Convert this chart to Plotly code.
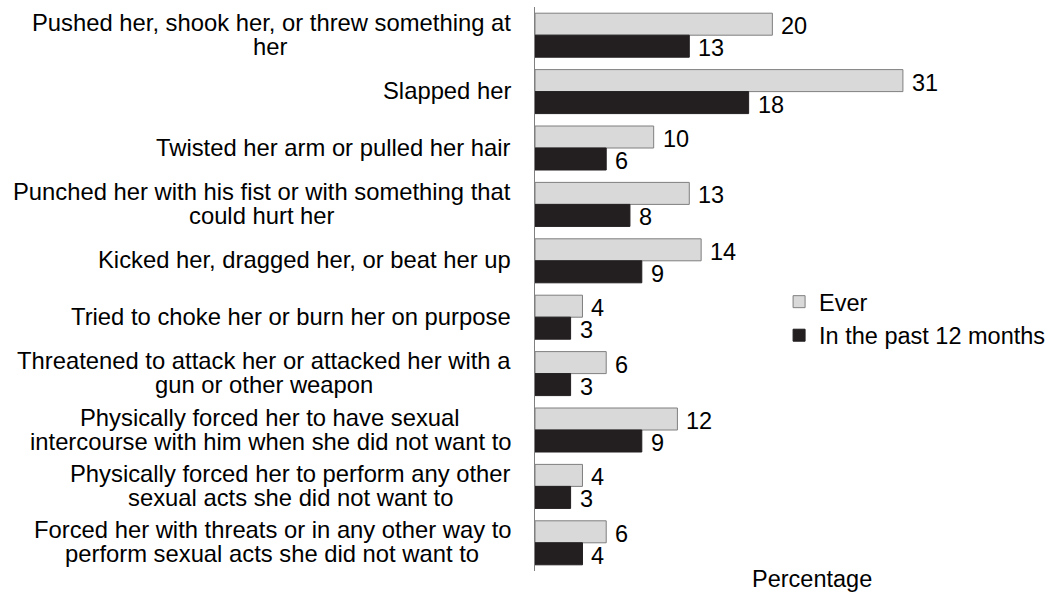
import plotly.graph_objects as go

categories = [
    "Pushed her, shook her, or threw something at<br>her",
    "Slapped her",
    "Twisted her arm or pulled her hair",
    "Punched her with his fist or with something that<br>could hurt her",
    "Kicked her, dragged her, or beat her up",
    "Tried to choke her or burn her on purpose",
    "Threatened to attack her or attacked her with a<br>gun or other weapon",
    "Physically forced her to have sexual<br>intercourse with him when she did not want to",
    "Physically forced her to perform any other<br>sexual acts she did not want to",
    "Forced her with threats or in any other way to<br>perform sexual acts she did not want to",
]
ever = [20, 31, 10, 13, 14, 4, 6, 12, 4, 6]
past_12_months = [13, 18, 6, 8, 9, 3, 3, 9, 3, 4]

FONT = "Liberation Sans, Arial, sans-serif"
FS = 23.5
LABEL_FS = 23.8
idx = list(range(len(categories)))

# Arial / Liberation Sans advance widths (per 1000 em) used to centre
# the lines of a wrapped label against each other.
ADV = {" ": 278, ",": 278, "a": 556, "b": 556, "c": 500, "d": 556, "e": 556,
       "f": 278, "g": 556, "h": 556, "i": 222, "j": 222, "k": 500, "l": 222,
       "m": 833, "n": 556, "o": 556, "p": 556, "q": 556, "r": 333, "s": 500,
       "t": 278, "u": 556, "v": 500, "w": 722, "x": 500, "y": 500, "z": 500,
       "P": 667, "S": 667, "T": 611, "K": 667, "F": 611}


def text_width(s, size):
    return sum(ADV.get(ch, 556) for ch in s) * size / 1000.0


fig = go.Figure()
fig.add_trace(go.Bar(
    name="Ever", y=idx, x=ever, orientation="h",
    marker=dict(color="#d9d9d9", line=dict(color="#7f7f7f", width=1)),
))
fig.add_trace(go.Bar(
    name="In the past 12 months", y=idx, x=past_12_months, orientation="h",
    marker=dict(color="#231f20", line=dict(color="#231f20", width=1)),
))

annotations = []
LABEL_GAP = 22      # px between label block and the axis line
LINE_STEP = 24      # px between wrapped label lines
for i, c in enumerate(categories):
    lines = c.split("<br>")
    widths = [text_width(s, LABEL_FS) for s in lines]
    block = max(widths)
    n = len(lines)
    for k, (s, w) in enumerate(zip(lines, widths)):
        annotations.append(dict(
            x=0, xref="paper", y=i, yref="y", text=s, showarrow=False,
            xanchor="right", yanchor="middle",
            xshift=-LABEL_GAP - (block - w) / 2,
            yshift=((n - 1) / 2 - k) * LINE_STEP + 1,
            font=dict(family=FONT, size=LABEL_FS, color="#000000"),
        ))

# value labels next to each bar
half = (1 - 0.22) / 4
for i in idx:
    for v, off in ((ever[i], -half), (past_12_months[i], half)):
        annotations.append(dict(
            x=v, xref="x", y=i + off, yref="y", text=str(v), showarrow=False,
            xanchor="left", yanchor="middle", xshift=7, yshift=-2,
            font=dict(family=FONT, size=FS, color="#000000"),
        ))
annotations.append(dict(
    x=0.641, xref="paper", y=0, yref="paper", text="Percentage",
    showarrow=False, xanchor="center", yanchor="middle", yshift=-8,
    font=dict(family=FONT, size=FS, color="#000000"),
))

fig.update_layout(
    width=1051, height=592,
    margin=dict(l=535, r=84, t=7, b=21, autoexpand=False),
    paper_bgcolor="white", plot_bgcolor="white",
    barmode="group", bargap=0.22, bargroupgap=0,
    font=dict(family=FONT, size=FS, color="#000000"),
    xaxis=dict(range=[0, 36.4], showgrid=False, zeroline=False, showticklabels=False,
               showline=False, ticks=""),
    yaxis=dict(range=[9.5, -0.5], showgrid=False, zeroline=False, showticklabels=False,
               showline=True, linecolor="#808080", linewidth=1, ticks=""),
    legend=dict(x=0.565, y=0.447, xanchor="left", yanchor="middle",
                bgcolor="rgba(0,0,0,0)", tracegroupgap=0, itemwidth=30,
                font=dict(family=FONT, size=FS, color="#000000")),
    annotations=annotations,
    showlegend=True,
)

fig.write_html("out.html")
